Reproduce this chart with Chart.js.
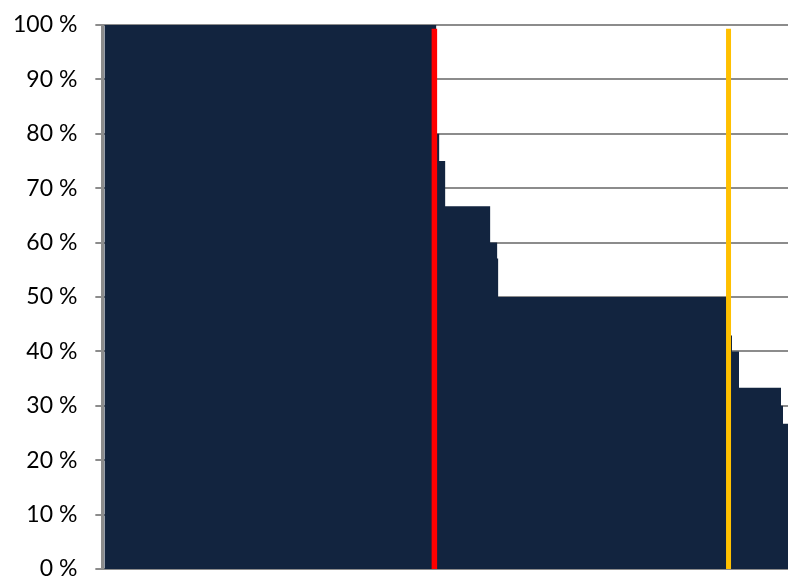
<!DOCTYPE html>
<html>
<head>
<meta charset="utf-8">
<script src="https://cdn.jsdelivr.net/npm/chart.js@4.4.1/dist/chart.umd.min.js"></script>
<style>
  html, body { margin: 0; padding: 0; background: #fff; }
  #wrap { width: 788px; height: 580px; }
</style>
</head>
<body>
<div id="wrap"><canvas id="share-chart"></canvas></div>
<script>
// rank position where each step begins, and the share (%) held from there on
var stepStarts = [0, 332, 335, 341, 386, 393, 394, 627, 628, 635, 677, 679, 684];
var stepValues = [100, 80, 75, 66.7, 60, 57.1, 50, 42.9, 40, 33.3, 30, 26.7, 26.7];

// marker lines (rank position, height in %)
var redMarker = 330.2;
var goldMarker = 624.5;
var markerTop = 99.3;

var yTicks = [0, 10, 20, 30, 40, 50, 60, 70, 80, 90, 100];

var areaPoints = stepStarts.map(function (x, i) {
  return { x: x, y: stepValues[i] };
});

new Chart(document.getElementById("share-chart"), {
  type: 'line',
  data: {
    datasets: [
      {
        data: [{ x: redMarker, y: 0 }, { x: redMarker, y: markerTop }],
        borderColor: '#ff0000',
        borderWidth: 5.5,
        borderCapStyle: 'butt',
        pointRadius: 0,
        fill: false
      },
      {
        data: [{ x: goldMarker, y: 0 }, { x: goldMarker, y: markerTop }],
        borderColor: '#ffc000',
        borderWidth: 5,
        borderCapStyle: 'butt',
        pointRadius: 0,
        fill: false
      },
      {
        data: areaPoints,
        stepped: 'before',
        fill: 'origin',
        backgroundColor: '#12243f',
        borderColor: 'transparent',
        borderWidth: 0,
        pointRadius: 0
      }
    ]
  },
  options: {
    responsive: true,
    maintainAspectRatio: false,
    animation: false,
    layout: { padding: { left: -5, right: 0, top: 25, bottom: 11 } },
    plugins: {
      legend: { display: false },
      tooltip: { enabled: false }
    },
    scales: {
      x: {
        type: 'linear',
        min: -2,
        max: 684,
        display: false
      },
      y: {
        min: 0,
        max: 100,
        afterBuildTicks: function (scale) {
          scale.ticks = yTicks.map(function (v) { return { value: v }; });
        },
        // tick padding would otherwise also push the plot down from the top/bottom
        afterFit: function (scale) {
          scale.paddingTop = 0;
          scale.paddingBottom = 0;
        },
        ticks: {
          padding: 18,
          color: '#000',
          font: { family: 'Lato', size: 23 },
          callback: function (v) { return v + ' %'; }
        },
        grid: {
          color: '#8c8c8c',
          lineWidth: 2,
          tickLength: 7
        },
        border: { color: '#8c8c8c', width: 3 }
      }
    }
  }
});
</script>
</body>
</html>
